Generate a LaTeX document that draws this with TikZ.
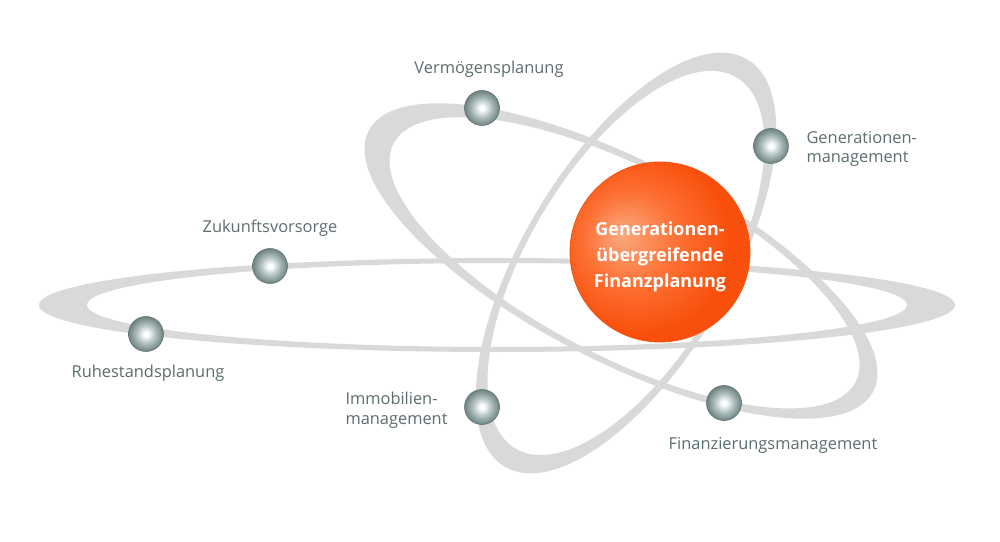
\documentclass[tikz,border=0pt]{standalone}
\usepackage{fontspec}
\setmainfont{Open Sans}
\definecolor{orbitgray}{RGB}{217,217,217}
\definecolor{textgray}{RGB}{92,110,110}
\definecolor{ballmid}{RGB}{172,188,188}
\definecolor{balledge}{RGB}{110,130,130}
\definecolor{ballline}{RGB}{96,116,116}
\definecolor{sunhi}{RGB}{250,170,128}
\definecolor{sunmid}{RGB}{253,112,52}
\definecolor{sunedge}{RGB}{248,80,12}
\pgfdeclareradialshading{planetshade}{\pgfpoint{0bp}{0bp}}{color(0bp)=(white); color(3bp)=(white); color(14bp)=(ballmid); color(25bp)=(balledge); color(50bp)=(balledge)}
\pgfdeclareradialshading{sunshade}{\pgfpoint{-11bp}{5bp}}{color(0bp)=(sunhi); color(13bp)=(sunmid); color(25bp)=(sunedge); color(50bp)=(sunedge)}

\begin{document}
\begin{tikzpicture}[x=1pt, y=1pt,
        orbit/.style={fill=orbitgray, even odd rule},
        planet/.style={circle, minimum size=35pt, inner sep=0pt, shading=planetshade, draw=ballline, line width=0.6pt},
        planettext/.style={text=textgray, font=\fontsize{16.4}{19.5}\selectfont, align=left},
        sun/.style={circle, minimum size=180pt, inner sep=0pt, shading=sunshade, draw=sunedge, line width=0.8pt},
        suntext/.style={text=white, font=\bfseries\fontsize{18}{26}\selectfont, align=center}]
    \fill[white] (0, 0) rectangle (1000, 541);
    % orbits
    \fill[orbit] (497, 236) ellipse (458 and 47) (497, 236) ellipse (410 and 42);
    \fill[orbit, shift={(621, 280)}, rotate=-27.3] (0, 0) ellipse (284 and 100) (4, 0) ellipse (260 and 94);
    \fill[orbit, shift={(626, 278)}, rotate=59.2] (0, 0) ellipse (237 and 103) (0, 0) ellipse (216 and 97);
    % core
    \node[sun] (core) at (660, 289) {};
    \node[suntext] (coretext) at ([yshift=-5pt]core.center) {Generationen-\\übergreifende\\Finanzplanung};
    % planets
    \foreach \n/\x/\y in {vermoegen/482/433, generation/771/395, zukunft/270/275, ruhestand/146/207, immobilien/482/134, finanzierung/724/138} {
        \node[planet] (\n) at (\x, \y) {};
    };
    \node[planettext] (vermoegentext) at (489, 472) {Vermögensplanung};
    \node[planettext, anchor=west] (generationtext) at (803, 392) {Generationen-\\management};
    \node[planettext] (zukunfttext) at (270, 313) {Zukunftsvorsorge};
    \node[planettext] (ruhestandtext) at (148, 168) {Ruhestandsplanung};
    \node[planettext, anchor=west] (immobilientext) at (342, 131) {Immobilien-\\management};
    \node[planettext] (finanzierungtext) at (773, 96) {Finanzierungsmanagement};
\end{tikzpicture}
\end{document}
